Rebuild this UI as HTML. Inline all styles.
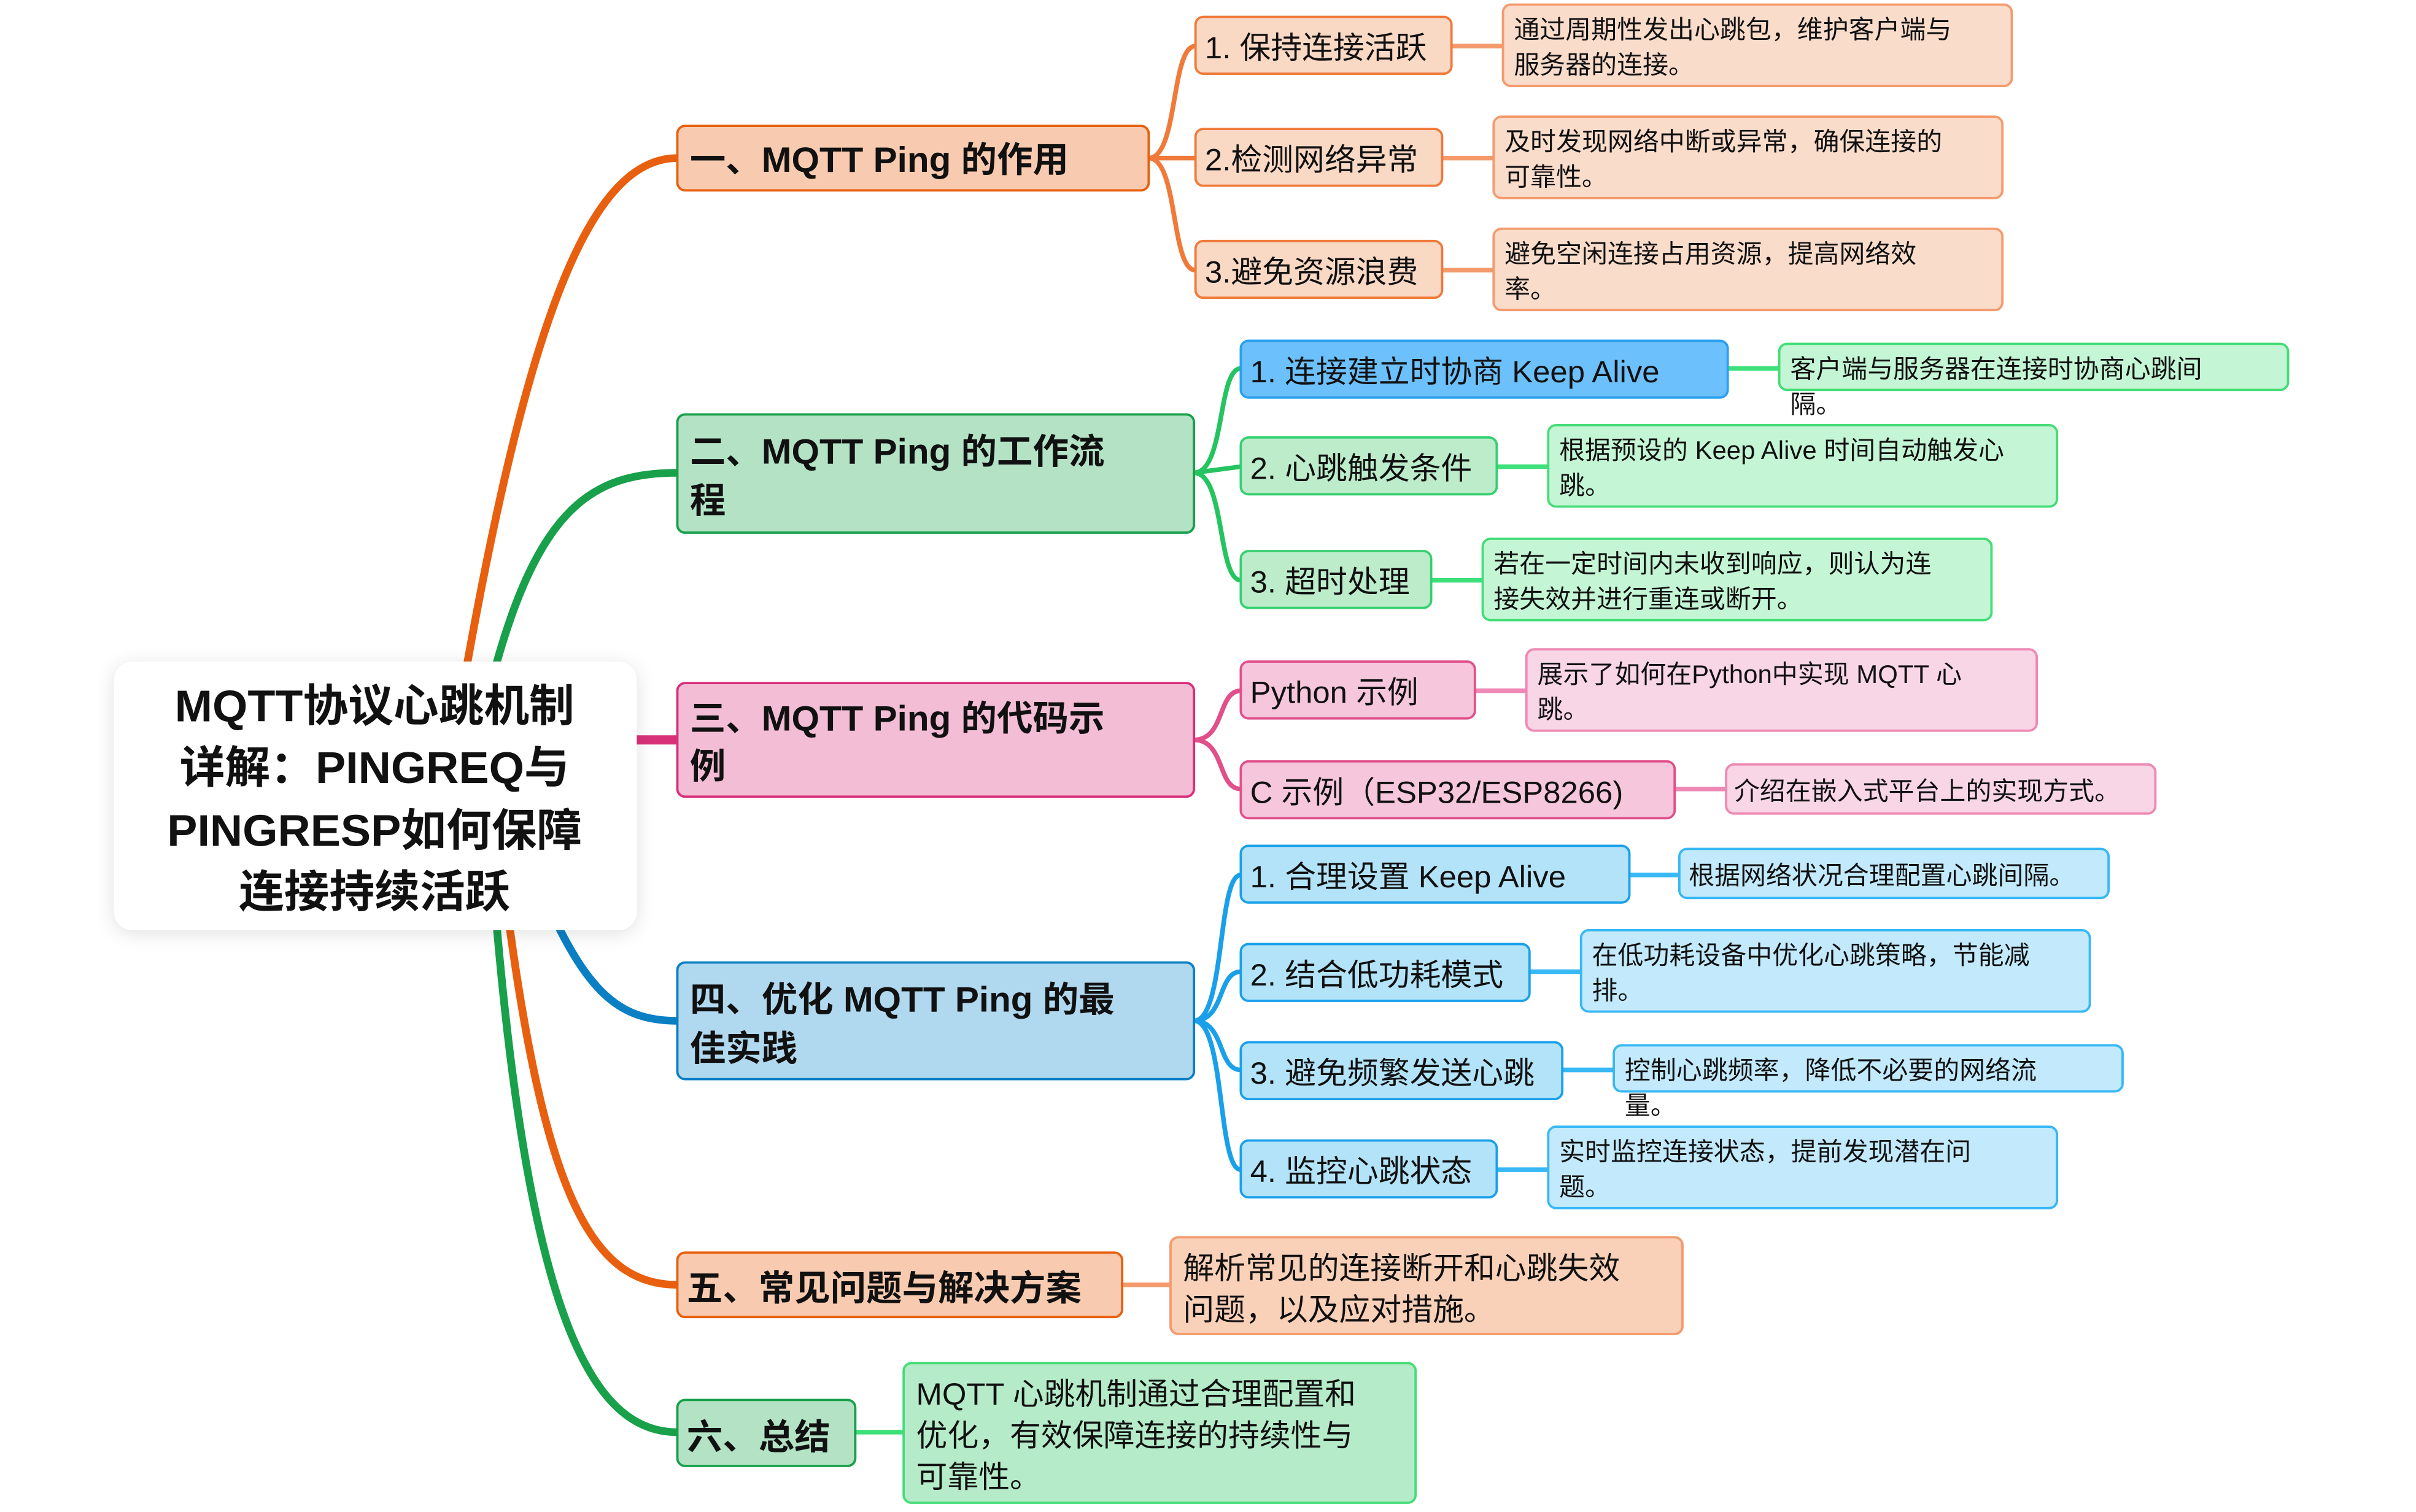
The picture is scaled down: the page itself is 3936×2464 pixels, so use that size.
<!DOCTYPE html>
<html><head><meta charset="utf-8"><style>
html,body{margin:0;padding:0;background:#fff;width:3936px;height:2464px;overflow:hidden}
svg{display:block}
text{font-family:"Liberation Sans","Noto Sans CJK SC",sans-serif;fill:#111}
.b{font-weight:bold}
</style></head><body>
<svg width="3936" height="2464" viewBox="0 0 1548 985" preserveAspectRatio="none" xmlns="http://www.w3.org/2000/svg">
<defs><filter id="sh" x="-20%" y="-20%" width="140%" height="140%"><feDropShadow dx="0" dy="2" stdDeviation="6" flood-color="#000" flood-opacity="0.12"/></filter></defs>
<g fill="none" stroke-linecap="round">
<path d="M298 440 C 340 200, 380 103, 434 103" stroke="#e8600f" stroke-width="5"/>
<path d="M316 440 C 345 330, 380 308, 434 308" stroke="#18a04a" stroke-width="5"/>
<path d="M408 482 L434 482" stroke="#d8317a" stroke-width="6"/>
<path d="M356 600 C 380 650, 400 665, 434 665" stroke="#0a7fc4" stroke-width="5"/>
<path d="M326 600 C 350 780, 380 837, 434 837" stroke="#e8600f" stroke-width="5"/>
<path d="M318 600 C 340 860, 380 933, 434 933" stroke="#18a04a" stroke-width="5"/>
<g stroke="#f07a3a" stroke-width="3"><path d="M736 103 C 755 103, 750 30, 766 30"/><path d="M736 103 L766 103"/><path d="M736 103 C 755 103, 750 176, 766 176"/></g>
<g stroke="#f59a6c" stroke-width="3"><path d="M930 30 L963 30"/><path d="M924 103 L957 103"/><path d="M924 176 L957 176"/><path d="M719 837 L750 837"/></g>
<g stroke="#25c460" stroke-width="3"><path d="M765 308 C 785 308, 780 240, 795 240"/><path d="M765 308 L795 304"/><path d="M765 308 C 785 308, 780 378, 795 378"/></g>
<g stroke="#3ee07a" stroke-width="3"><path d="M1107 240 L1140 240"/><path d="M959 304 L992 304"/><path d="M917 378 L950 378"/><path d="M548 933 L579 933"/></g>
<g stroke="#e0508a" stroke-width="3"><path d="M765 482 C 785 482, 780 450, 795 450"/><path d="M765 482 C 785 482, 780 514, 795 514"/></g>
<g stroke="#ee88b4" stroke-width="3"><path d="M945 450 L978 450"/><path d="M1073 514 L1106 514"/></g>
<g stroke="#1aa0ea" stroke-width="3"><path d="M765 665 C 785 665, 780 570, 795 570"/><path d="M765 665 C 785 665, 780 633, 795 633"/><path d="M765 665 C 785 665, 780 697, 795 697"/><path d="M765 665 C 785 665, 780 762, 795 762"/></g>
<g stroke="#38b8f5" stroke-width="3"><path d="M1044 570 L1076 570"/><path d="M980 633 L1013 633"/><path d="M1001 697 L1034 697"/><path d="M959 762 L992 762"/></g>
</g>
<rect x="73" y="431" width="335" height="175" rx="12" fill="#fff" filter="url(#sh)"/>
<g class="b" font-size="29" text-anchor="middle">
<text x="240" y="470" class="b">MQTT协议心跳机制</text>
<text x="240" y="510" class="b">详解：PINGREQ与</text>
<text x="240" y="551" class="b">PINGRESP如何保障</text>
<text x="240" y="591" class="b">连接持续活跃</text></g>
<!-- L1 -->
<rect x="434" y="82" width="302" height="42" rx="5" fill="#f8cbb0" stroke="#e8600f" stroke-width="1.5"/>
<text x="442" y="112" font-size="23" class="b">一、MQTT Ping 的作用</text>
<rect x="434" y="270" width="331" height="77" rx="5" fill="#b3e2c5" stroke="#18a04a" stroke-width="1.5"/>
<text x="442" y="302" font-size="23" class="b">二、MQTT Ping 的工作流</text><text x="442" y="334" font-size="23" class="b">程</text>
<rect x="434" y="445" width="331" height="74" rx="5" fill="#f2bdd5" stroke="#d8317a" stroke-width="1.5"/>
<text x="442" y="476" font-size="23" class="b">三、MQTT Ping 的代码示</text><text x="442" y="507" font-size="23" class="b">例</text>
<rect x="434" y="627" width="331" height="76" rx="5" fill="#b0d8ee" stroke="#0a7fc4" stroke-width="1.5"/>
<text x="442" y="659" font-size="23" class="b">四、优化 MQTT Ping 的最</text><text x="442" y="691" font-size="23" class="b">佳实践</text>
<rect x="434" y="816" width="285" height="42" rx="5" fill="#f8cbb0" stroke="#e8600f" stroke-width="1.5"/>
<text x="440" y="847" font-size="23" class="b">五、常见问题与解决方案</text>
<rect x="434" y="912" width="114" height="43" rx="5" fill="#b3e2c5" stroke="#18a04a" stroke-width="1.5"/>
<text x="440" y="944" font-size="23" class="b">六、总结</text>
<!-- orange L2 -->
<g fill="#f9d8c4" stroke="#f07a3a" stroke-width="1.5">
<rect x="766" y="11" width="164" height="37" rx="5"/><rect x="766" y="84" width="158" height="37" rx="5"/><rect x="766" y="157" width="158" height="37" rx="5"/></g>
<g fill="#fadccb" stroke="#f59a6c" stroke-width="1.5">
<rect x="963" y="3" width="326" height="53" rx="5"/><rect x="957" y="76" width="326" height="53" rx="5"/><rect x="957" y="149" width="326" height="53" rx="5"/>
<rect x="750" y="806" width="328" height="63" rx="5" fill="#f9d0b8"/></g>
<g font-size="20"><text x="772" y="38">1. 保持连接活跃</text><text x="772" y="111">2.检测网络异常</text><text x="772" y="184">3.避免资源浪费</text></g>
<g font-size="16.5"><text x="970" y="25">通过周期性发出心跳包，维护客户端与</text><text x="970" y="48">服务器的连接。</text>
<text x="964" y="98">及时发现网络中断或异常，确保连接的</text><text x="964" y="121">可靠性。</text>
<text x="964" y="171">避免空闲连接占用资源，提高网络效</text><text x="964" y="194">率。</text></g>
<g font-size="20"><text x="758" y="833">解析常见的连接断开和心跳失效</text><text x="758" y="860">问题，以及应对措施。</text></g>
<!-- green -->
<rect x="795" y="222" width="312" height="37" rx="5" fill="#6cc0fb" stroke="#2aa0f0" stroke-width="1.5"/>
<g fill="#bdeccb" stroke="#35d070" stroke-width="1.5"><rect x="795" y="285" width="164" height="37" rx="5"/><rect x="795" y="359" width="122" height="37" rx="5"/></g>
<g fill="#c4f6d5" stroke="#44dd77" stroke-width="1.5"><rect x="1140" y="224" width="326" height="30" rx="5"/><rect x="992" y="277" width="326" height="53" rx="5"/><rect x="950" y="351" width="326" height="53" rx="5"/>
<rect x="579" y="888" width="328" height="91" rx="5" fill="#b5ebc9"/></g>
<g font-size="20"><text x="801" y="249">1. 连接建立时协商 Keep Alive</text><text x="801" y="312">2. 心跳触发条件</text><text x="801" y="386">3. 超时处理</text></g>
<g font-size="16.5"><text x="1147" y="246">客户端与服务器在连接时协商心跳间</text><text x="1147" y="269">隔。</text>
<text x="999" y="299">根据预设的 Keep Alive 时间自动触发心</text><text x="999" y="322">跳。</text>
<text x="957" y="373">若在一定时间内未收到响应，则认为连</text><text x="957" y="396">接失效并进行重连或断开。</text></g>
<g font-size="20"><text x="587" y="915">MQTT 心跳机制通过合理配置和</text><text x="587" y="942">优化，有效保障连接的持续性与</text><text x="587" y="969">可靠性。</text></g>
<!-- pink -->
<g fill="#f5c6dc" stroke="#e0508a" stroke-width="1.5"><rect x="795" y="431" width="150" height="37" rx="5"/><rect x="795" y="496" width="278" height="37" rx="5"/></g>
<g fill="#f8d6e6" stroke="#ee88b4" stroke-width="1.5"><rect x="978" y="423" width="327" height="53" rx="5"/><rect x="1106" y="498" width="275" height="32" rx="5"/></g>
<g font-size="20"><text x="801" y="458">Python 示例</text><text x="801" y="523">C 示例（ESP32/ESP8266)</text></g>
<g font-size="16.5"><text x="985" y="445">展示了如何在Python中实现 MQTT 心</text><text x="985" y="468">跳。</text><text x="1111" y="521">介绍在嵌入式平台上的实现方式。</text></g>
<!-- blue -->
<g fill="#b3e3f8" stroke="#1aa0ea" stroke-width="1.5"><rect x="795" y="551" width="249" height="37" rx="5"/><rect x="795" y="615" width="185" height="37" rx="5"/><rect x="795" y="679" width="206" height="37" rx="5"/><rect x="795" y="743" width="164" height="37" rx="5"/></g>
<g fill="#c2eafc" stroke="#38b8f5" stroke-width="1.5"><rect x="1076" y="553" width="275" height="32" rx="5"/><rect x="1013" y="606" width="326" height="53" rx="5"/><rect x="1034" y="681" width="326" height="30" rx="5"/><rect x="992" y="734" width="326" height="53" rx="5"/></g>
<g font-size="20"><text x="801" y="578">1. 合理设置 Keep Alive</text><text x="801" y="642">2. 结合低功耗模式</text><text x="801" y="706">3. 避免频繁发送心跳</text><text x="801" y="770">4. 监控心跳状态</text></g>
<g font-size="16.5"><text x="1082" y="576">根据网络状况合理配置心跳间隔。</text>
<text x="1020" y="628">在低功耗设备中优化心跳策略，节能减</text><text x="1020" y="651">排。</text>
<text x="1041" y="703">控制心跳频率，降低不必要的网络流</text><text x="1041" y="726">量。</text>
<text x="999" y="756">实时监控连接状态，提前发现潜在问</text><text x="999" y="779">题。</text></g>
</svg>
</body></html>
